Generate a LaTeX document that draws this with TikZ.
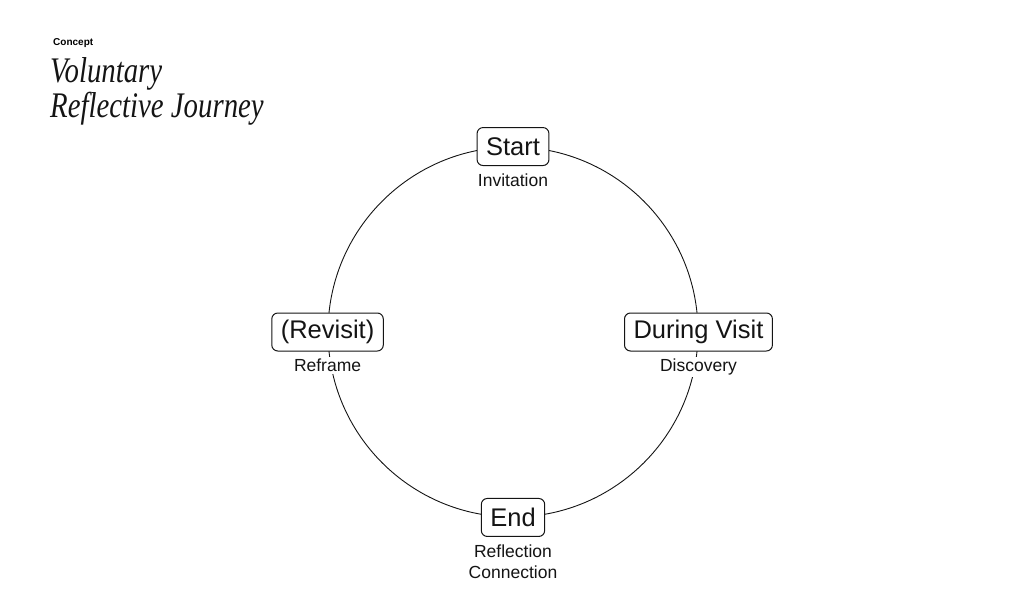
\documentclass[tikz,border=0pt]{standalone}
\usepackage{fontspec}
\setmainfont{Liberation Sans}
\newfontfamily\titlefont{Liberation Serif}
\usetikzlibrary{positioning}
\definecolor{ringink}{RGB}{20, 20, 20}
\tikzset{
  stage/.style={draw=ringink, fill=white, rounded corners=6pt, line width=1pt, inner xsep=9pt, inner ysep=0pt, minimum height=38pt, text=ringink, font=\fontsize{25.5}{30}\selectfont},
  sub/.style={fill=white, align=center, inner sep=2pt, text=ringink, font=\fontsize{17.5}{20.5}\selectfont},
  ring/.style={circle, draw=ringink, line width=0.9pt, minimum size=370pt, inner sep=0pt},
  title/.style={anchor=base west, align=left, inner sep=0pt, text=ringink, font=\titlefont\itshape\fontsize{36}{32}\selectfont}
}

\begin{document}
\begin{tikzpicture}[x=1pt, y=-1pt]
                \useasboundingbox (0,0) rectangle (1024,602);
                \node[anchor=west, inner sep=0pt, font=\bfseries\fontsize{10}{12}\selectfont] (concept) at (53,43) {Concept};
                \node[title] (title) at (50,117) {\scalebox{0.8}[1]{Voluntary}\\\scalebox{0.8}[1]{Reflective Journey}};
                \node[ring] (ring) at (513,332) {};
                \node[stage] (start) at (ring.north) {Start};
                \node[stage] (visit) at (ring.east) {During Visit};
                \node[stage] (end) at (ring.south) {End};
                \node[stage] (revisit) at (ring.west) {(Revisit)};
                \node[sub, below=6pt of start] (invite) {Invitation};
                \node[sub, below=5pt of visit] (discover) {Discovery};
                \node[sub, below=6pt of end] (reflect) {Reflection\\Connection};
                \node[sub, below=5pt of revisit] (reframe) {Reframe};
            \end{tikzpicture}
\end{document}
